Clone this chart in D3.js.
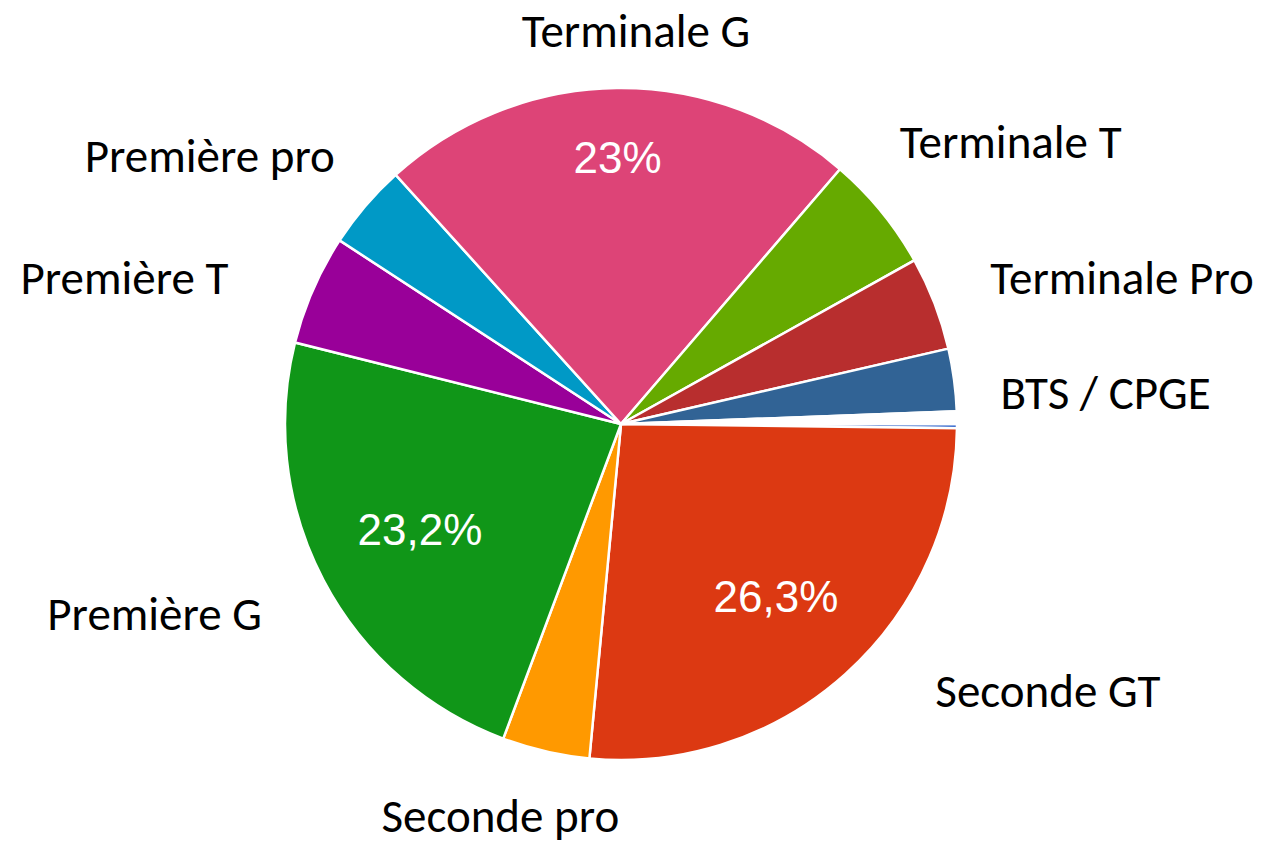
<!DOCTYPE html>
<html lang="fr">
<head>
    <meta charset="UTF-8">
    <title>Répartition par niveau</title>
    <script src="https://d3js.org/d3.v7.min.js"></script>
    <style>
        body {
            margin: 0;
            padding: 0;
            background-color: #fff;
        }

        .slice-label {
            font-family: Carlito, Calibri, Lato, sans-serif;
            font-size: 47px;
            fill: #000;
        }

        .pct-label {
            font-family: Arial, "Liberation Sans", sans-serif;
            font-size: 44px;
            fill: #fff;
        }
    </style>
</head>
<body>
    <svg width="1264" height="851"></svg>
    <script>
        // slices in drawing order (clockwise, starting at 3 o'clock)
        const categories = ["", "Seconde GT", "Seconde pro", "Première G", "Première T",
            "Première pro", "Terminale G", "Terminale T", "Terminale Pro", "BTS / CPGE", ""];
        const values = [0.2, 26.3, 4.2, 23.2, 5.3, 4.1, 23.0, 5.6, 4.5, 3.0, 0.6];
        const colors = ["#3366cc", "#dc3912", "#ff9900", "#109618", "#990099", "#0099c6",
            "#dd4477", "#66aa00", "#b82e2e", "#316395", "#ffffff"];

        // label placement tweaks (px) relative to the computed outer point
        const labelNudge = [[0, 0], [47, -31], [-31, 2], [-5, 3], [-26, 14], [18, -9],
            [20, 7], [-31, -29], [-4, -3], [-17, 21], [0, 0]];
        // radius (fraction of r) for the percentage inside the big slices
        const pctRadius = [0, 0.69, 0, 0.676, 0, 0, 0.795, 0, 0, 0, 0];

        const svg = d3.select("svg");
        const width = +svg.attr("width");
        const height = +svg.attr("height");
        const cx = 621, cy = 424, r = 336;

        const g = svg.append("g")
            .attr("transform", `translate(${cx},${cy})`);

        const data = categories.map((c, i) => ({name: c, value: values[i], i: i}));

        const pie = d3.pie()
            .sort(null)
            .value(d => d.value)
            .startAngle(Math.PI / 2)
            .endAngle(Math.PI / 2 + 2 * Math.PI);

        const arcs = pie(data);
        const arc = d3.arc().innerRadius(0).outerRadius(r);

        g.selectAll(".slice")
            .data(arcs)
            .enter().append("path")
            .attr("class", "slice")
            .attr("d", arc)
            .attr("fill", d => colors[d.data.i])
            .attr("stroke", "#fff")
            .attr("stroke-width", 2.5);

        const mid = d => (d.startAngle + d.endAngle) / 2;
        const labelR = 400;

        g.selectAll(".slice-label")
            .data(arcs.filter(d => d.data.name))
            .enter().append("text")
            .attr("class", "slice-label")
            .attr("x", d => labelR * Math.sin(mid(d)) + labelNudge[d.data.i][0])
            .attr("y", d => -labelR * Math.cos(mid(d)) + labelNudge[d.data.i][1])
            .attr("dy", "0.35em")
            .attr("text-anchor", d => {
                const s = Math.sin(mid(d));
                if (Math.abs(s) < 0.3) return "middle";
                return s > 0 ? "start" : "end";
            })
            .text(d => d.data.name);

        const fmt = v => String(Math.round(v * 10) / 10).replace(".", ",") + "%";

        g.selectAll(".pct-label")
            .data(arcs.filter(d => pctRadius[d.data.i] > 0))
            .enter().append("text")
            .attr("class", "pct-label")
            .attr("x", d => pctRadius[d.data.i] * r * Math.sin(mid(d)))
            .attr("y", d => -pctRadius[d.data.i] * r * Math.cos(mid(d)))
            .attr("dy", "0.36em")
            .attr("text-anchor", "middle")
            .text(d => fmt(d.data.value));
    </script>
</body>
</html>
